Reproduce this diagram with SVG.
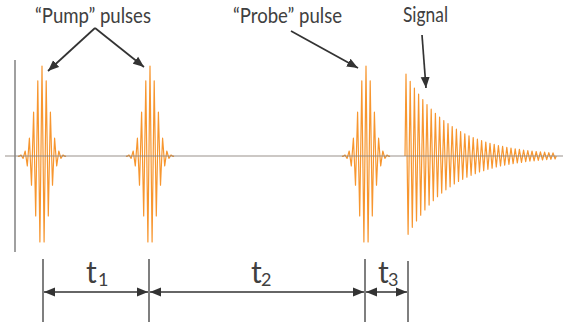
<svg xmlns="http://www.w3.org/2000/svg" xmlns:xlink="http://www.w3.org/1999/xlink" width="563" height="324" viewBox="0 0 563 324">
<style>
.lbl{font-family:Lato,"Open Sans","Liberation Sans",sans-serif;fill:#404040;font-size:21.5px}
.t{font-family:Lato,"Open Sans","Liberation Sans",sans-serif;fill:#404040;font-size:30px}
.sub{font-family:Lato,"Open Sans","Liberation Sans",sans-serif;fill:#404040;font-size:18px}
.wave{fill:none;stroke:#F7962F;stroke-width:1.2;stroke-linejoin:round}
.arr{fill:none;stroke:#333;stroke-width:1.7}
.tick{fill:none;stroke:#555;stroke-width:1.5}
</style>
<defs>
<marker id="ah" markerUnits="userSpaceOnUse" markerWidth="12" markerHeight="10" refX="11" refY="4.5" orient="auto-start-reverse" viewBox="0 0 12 9">
<path d="M0,0 L11,4.5 L0,9 z" fill="#333"/>
</marker>
<polyline id="pulse" class="wave" points="-24,0 -23.1,0.5 -21,-1 -18.9,2.4 -16.8,-5 -14.7,9.9 -12.6,-17.8 -10.5,29.2 -8.4,-43.8 -6.3,60 -4.2,-75.2 -2.1,86 0,-90 2.1,86 4.2,-75.2 6.3,60 8.4,-43.8 10.5,29.2 12.6,-17.8 14.7,9.9 16.8,-5 18.9,2.4 21,-1 23.1,0.5 24,0"/>
</defs>
<rect width="563" height="324" fill="#fff"/>
<g id="axis">
<line x1="15" y1="60" x2="15" y2="252" stroke="#808080" stroke-width="1.5"/>
</g>
<g id="pump1"><use xlink:href="#pulse" href="#pulse" transform="translate(42,156)"/></g>
<g id="pump2"><use xlink:href="#pulse" href="#pulse" transform="translate(150,156)"/></g>
<g id="probe"><use xlink:href="#pulse" href="#pulse" transform="translate(366,156)"/></g>
<g id="signal">
<polyline class="wave" transform="translate(406,156)" points="-1,0 0,-82 2.1,78.3 4.2,-74.7 6.3,71.3 8.4,-68 10.5,64.9 12.6,-62 14.7,59.2 16.8,-56.5 18.9,53.9 21,-51.4 23.1,49.1 25.2,-46.8 27.3,44.7 29.4,-42.7 31.5,40.7 33.6,-38.9 35.7,37.1 37.8,-35.4 39.9,33.8 42,-32.3 44.1,30.8 46.2,-29.4 48.3,28 50.4,-26.8 52.5,25.5 54.6,-24.4 56.7,23.3 58.8,-22.2 60.9,21.2 63,-20.2 65.1,19.3 67.2,-18.4 69.3,17.6 71.4,-16.8 73.5,16 75.6,-15.3 77.7,14.6 79.8,-13.9 81.9,13.3 84,-12.7 86.1,12.1 88.2,-11.6 90.3,11 92.4,-10.5 94.5,10 96.6,-9.6 98.7,9.2 100.8,-8.7 102.9,8.3 105,-8 107.1,7.6 109.2,-7.2 111.3,6.9 113.4,-6.6 115.5,6.3 117.6,-6 119.7,5.7 121.8,-5.5 123.9,5.2 126,-5 128.1,4.8 130.2,-4.5 132.3,4.3 134.4,-4.1 136.5,4 138.6,-3.8 140.7,3.6 142.8,-3.4 144.9,3.3 147,-3.1 149.1,3 150.2,0"/>
</g>
<g id="baseline">
<line x1="5" y1="156" x2="563" y2="156" stroke="#8a8078" stroke-width="1.2" opacity="0.85"/>
</g>
<g id="label-pump"><text class="lbl" x="35" y="23" textLength="116" lengthAdjust="spacingAndGlyphs">“Pump” pulses</text></g>
<g id="label-probe"><text class="lbl" x="233" y="23" textLength="109" lengthAdjust="spacingAndGlyphs">“Probe” pulse</text></g>
<g id="label-signal"><text class="lbl" x="403" y="22" textLength="45" lengthAdjust="spacingAndGlyphs">Signal</text></g>
<g id="ticks">
<line class="tick" x1="43" y1="259" x2="43" y2="322"/>
<line class="tick" x1="149" y1="259" x2="149" y2="322"/>
<line class="tick" x1="365" y1="259" x2="365" y2="322"/>
<line class="tick" x1="408" y1="261" x2="408" y2="322"/>
</g>
<g id="t1"><text class="t" x="86" y="283">t</text><text class="sub" x="98" y="286">1</text></g>
<g id="t2"><text class="t" x="251" y="283">t</text><text class="sub" x="261" y="286">2</text></g>
<g id="t3"><text class="t" x="378" y="283">t</text><text class="sub" x="388" y="286">3</text></g>
<g id="connectors">
<line class="arr" x1="95" y1="28" x2="48" y2="71" marker-end="url(#ah)"/>
<line class="arr" x1="95" y1="28" x2="144" y2="67" marker-end="url(#ah)"/>
<line class="arr" x1="291" y1="31" x2="358" y2="68" marker-end="url(#ah)"/>
<line class="arr" x1="422" y1="35" x2="426" y2="88" marker-end="url(#ah)"/>
<line class="arr" x1="44" y1="292" x2="148" y2="292" marker-start="url(#ah)" marker-end="url(#ah)"/>
<line class="arr" x1="150" y1="292" x2="364" y2="292" marker-start="url(#ah)" marker-end="url(#ah)"/>
<line class="arr" x1="366" y1="292" x2="407" y2="292" marker-start="url(#ah)" marker-end="url(#ah)"/>
</g>
</svg>
